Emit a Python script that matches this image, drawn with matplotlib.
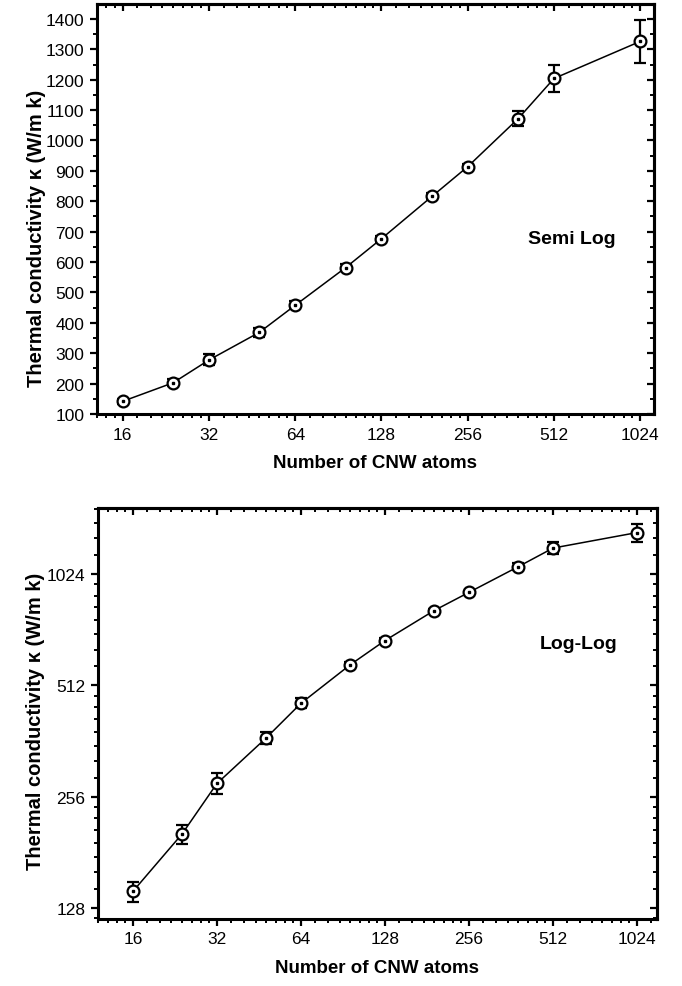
import matplotlib
matplotlib.use('Agg')
import matplotlib.pyplot as plt
from matplotlib.ticker import FixedLocator, MultipleLocator, LogLocator, NullFormatter
import numpy as np

# data
n_atoms = [16, 24, 32, 48, 64, 96, 128, 192, 256, 384, 512, 1024]
kappa = [142, 203, 278, 369, 458, 582, 677, 816, 914, 1072, 1204, 1326]
kappa_err = [9, 12, 18, 14, 14, 11, 10, 10, 10, 25, 45, 72]
x_ticks = [16, 32, 64, 128, 256, 512, 1024]
y_ticks_lin = list(range(100, 1401, 100))
y_ticks_log = [128, 256, 512, 1024]

plt.rcParams['font.family'] = ['Liberation Sans', 'DejaVu Sans']

fig = plt.figure(figsize=(6.82, 9.87), dpi=100)
ax1 = fig.add_axes([0.1422, 0.5795, 0.8167, 0.4154])
ax2 = fig.add_axes([0.1437, 0.0679, 0.8196, 0.4164])

minor_subs = np.arange(1, 2, 0.125)


def draw(ax):
    ax.errorbar(n_atoms, kappa, yerr=kappa_err, color='black', lw=1.1,
                elinewidth=1.6, capsize=4.5, capthick=1.8, marker='o', ms=8.5,
                mfc='white', mec='black', mew=1.6, zorder=3)
    ax.plot(n_atoms, kappa, ls='none', marker='s', ms=1.6, color='black', zorder=4)
    ax.set_xscale('log', base=2)
    ax.xaxis.set_major_locator(FixedLocator(x_ticks))
    ax.xaxis.set_minor_locator(LogLocator(base=2, subs=minor_subs))
    ax.xaxis.set_minor_formatter(NullFormatter())
    ax.set_xticklabels([str(t) for t in x_ticks])
    for s in ax.spines.values():
        s.set_linewidth(2.2)
    ax.tick_params(which='major', direction='out', length=5, width=1.6,
                   labelsize=12.5, pad=4)
    ax.tick_params(which='minor', direction='out', length=3, width=1.4)
    ax.set_xlabel('Number of CNW atoms', fontsize=13.5, fontweight='bold', labelpad=9)
    ax.set_ylabel('Thermal conductivity κ (W/m k)', fontsize=14.5, fontweight='bold')


def mirror(ax, logy):
    # inward ticks on top and right spines
    top = ax.secondary_xaxis('top')
    top.xaxis.set_major_locator(FixedLocator(x_ticks))
    top.xaxis.set_minor_locator(LogLocator(base=2, subs=minor_subs))
    top.tick_params(which='major', direction='in', length=5, width=1.6, labeltop=False)
    top.tick_params(which='minor', direction='in', length=3, width=1.4)
    top.xaxis.set_minor_formatter(NullFormatter())
    right = ax.secondary_yaxis('right')
    if logy:
        right.yaxis.set_major_locator(FixedLocator(y_ticks_log))
        right.yaxis.set_minor_locator(LogLocator(base=2, subs=minor_subs))
    else:
        right.yaxis.set_major_locator(FixedLocator(y_ticks_lin))
        right.yaxis.set_minor_locator(MultipleLocator(50))
    right.yaxis.set_minor_formatter(NullFormatter())
    right.tick_params(which='major', direction='in', length=5, width=1.6, labelright=False)
    right.tick_params(which='minor', direction='in', length=3, width=1.4)
    for s in list(top.spines.values()) + list(right.spines.values()):
        s.set_linewidth(2.2)


# semi-log panel
draw(ax1)
ax1.set_xlim(13.0, 1144)
ax1.set_ylim(100, 1449)
ax1.yaxis.set_major_locator(FixedLocator(y_ticks_lin))
ax1.yaxis.set_minor_locator(MultipleLocator(50))
ax1.yaxis.set_label_coords(-0.092, 0.43)
ax1.text(0.853, 0.427, 'Semi Log', transform=ax1.transAxes, fontsize=14,
         fontweight='bold', ha='center', va='center')
mirror(ax1, False)

# log-log panel
draw(ax2)
ax2.set_yscale('log', base=2)
ax2.set_xlim(12.0, 1206)
ax2.set_ylim(119.6, 1545)
ax2.yaxis.set_major_locator(FixedLocator(y_ticks_log))
ax2.yaxis.set_minor_locator(LogLocator(base=2, subs=minor_subs))
ax2.yaxis.set_minor_formatter(NullFormatter())
ax2.set_yticklabels([str(t) for t in y_ticks_log])
ax2.yaxis.set_label_coords(-0.094, 0.484)
ax2.text(0.86, 0.67, 'Log-Log', transform=ax2.transAxes, fontsize=14,
         fontweight='bold', ha='center', va='center')
mirror(ax2, True)

fig.savefig('out.png', dpi=100)
